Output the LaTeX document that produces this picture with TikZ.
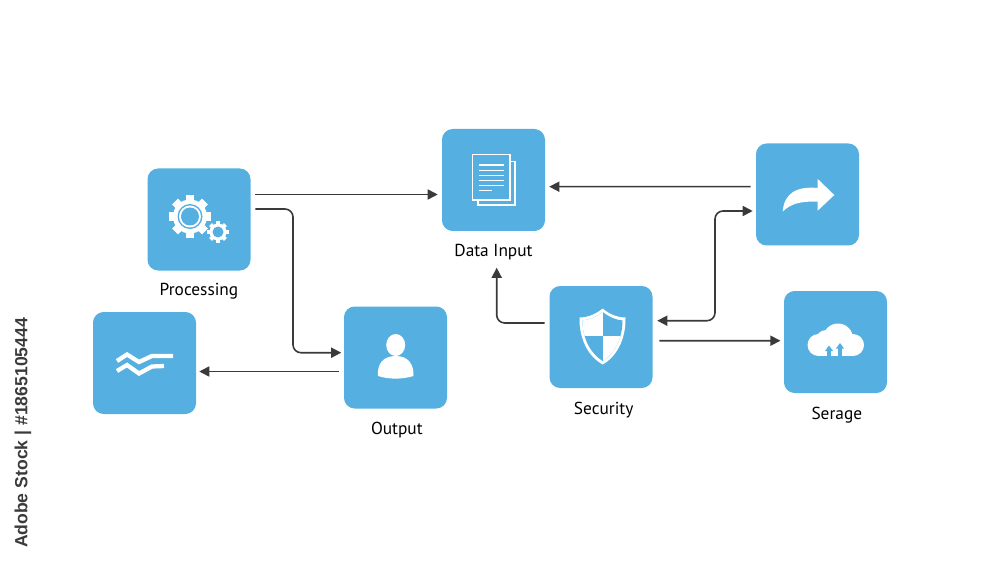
\documentclass[tikz,border=0pt]{standalone}
\usepackage{fontspec}
\setmainfont{PT Sans}
\newfontfamily\sidefont{Liberation Sans}
\usepackage{xcolor}
\usepackage{tikz}
\usetikzlibrary{arrows.meta,positioning,calc}
\definecolor{boxblue}{HTML}{55AFE0}
\definecolor{linegray}{HTML}{3A3A3A}
\newcommand{\gearicon}[4]{% centre x, centre y, radius, teeth
  \fill[white] (#1,#2) circle (#3);
  \pgfmathsetmacro{\gearstep}{360/#4}
  \pgfmathsetmacro{\gearnext}{2*\gearstep}
  \foreach \a in {0,\gearstep,...,359}
    \fill[white,rotate around={\a:(#1,#2)}] (#1-0.24*#3,#2) rectangle (#1+0.24*#3,#2-1.24*#3);
}
\begin{document}
\begin{tikzpicture}[
  x=0.75pt,y=-0.75pt,
  font=\fontsize{13}{15}\selectfont,
  node distance=5pt,
  box/.style={rectangle,fill=boxblue,rounded corners=8pt,minimum width=77.25pt,minimum height=76.5pt,inner sep=0pt},
  lab/.style={text=black,inner sep=0pt},
  ar/.style={-{Stealth[length=7.5pt,width=7.5pt,inset=0pt]},draw=linegray,line width=1.2pt},
  dbl/.style={{Stealth[length=7.5pt,width=7.5pt,inset=0pt]}-{Stealth[length=7.5pt,width=7.5pt,inset=0pt]},draw=linegray,line width=1.2pt},
  wline/.style={draw=white,line width=#1,line join=miter}
]
\useasboundingbox (0,0) rectangle (1000,563);

\node[box] (proc) at (199,219.5) {};
\node[box] (input) at (493.5,180) {};
\node[box] (share) at (807.5,194.5) {};
\node[box] (secur) at (601,337) {};
\node[box] (store) at (835.5,342) {};
\node[box] (output) at (395.5,357.5) {};
\node[box] (wave) at (144.5,363) {};

\node[lab,below=9.5pt of proc] (proclab) {Processing};
\node[lab,below=9.5pt of input] (inputlab) {Data Input};
\node[lab,below=10pt of output,xshift=1pt] (outputlab) {Output};
\node[lab,below=10pt of secur,xshift=2pt] (securlab) {Security};
\node[lab,below=10.5pt of store,xshift=1pt] (storelab) {Serage};
\node[rotate=90,text=linegray,inner sep=0pt,font=\sidefont\bfseries\fontsize{13.2}{15}\selectfont] (stock) at (23,433) {Adobe Stock | \#1865105444};

\coordinate (bendA) at (293,280);
\coordinate (bendB) at (715,265);
\draw[ar] ([shift={(4.5,-25)}]proc.east) -- ([shift={(-4,14.5)}]input.west);
\draw[ar,rounded corners=6pt] ([shift={(4.5,-10.5)}]proc.east) -| (bendA) |- ([shift={(-2.5,-4.8)}]output.west);
\draw[ar] ([shift={(-5,14)}]output.west) -- ([shift={(3,8.5)}]wave.east);
\draw[ar] ([shift={(-5,-7.8)}]share.west) -- ([shift={(4,6.7)}]input.east);
\draw[ar,rounded corners=6pt] ([shift={(-4.5,-14)}]secur.west) -| ([shift={(3.2,36.5)}]input.south);
\draw[dbl,rounded corners=6pt] ([shift={(-3,16.5)}]share.west) -| (bendB) |- ([shift={(4.5,-16.3)}]secur.east);
\draw[ar] ([shift={(6.5,3.7)}]secur.east) -- ([shift={(-3.3,-1.3)}]store.west);

% gears
\gearicon{190}{216.5}{17}{8}
\fill[boxblue] (190,216.5) circle (12.5);
\fill[white] (190,216.5) circle (11);
\fill[boxblue] (190,216.5) circle (9);
\fill[boxblue] (218,232) circle (10.5);
\gearicon{218}{232}{8.5}{8}
\fill[boxblue] (218,232) circle (5.5);

% waves
\draw[wline=3.2pt] (117,361) -- (127,354.5) -- (139,362) -- (152,356) -- (173,356);
\draw[wline=3.2pt] (117,371) -- (127,365) -- (139,373.5) -- (152,366.5) -- (164,366);

% person
\fill[white] (395.7,345) ellipse (9.5 and 11);
\fill[white] (378,376) .. controls (377,364) and (383,356) .. (395.7,356) .. controls (408,356) and (414,364) .. (413.5,376) .. controls (402,379.5) and (389,379.5) .. (378,376) -- cycle;

% document
\draw[white,line width=1.1pt] (478,200) -- (478,205) -- (515,205) -- (515,161.5) -- (510,161.5);
\draw[white,line width=1.1pt] (472.3,154.3) rectangle (510,200);
\foreach \ypos in {165,170.5,175.7,180.7,185.7}
  \draw[white,line width=1.1pt] (479,\ypos) -- (504,\ypos);
\draw[white,line width=1.1pt] (479,190.7) -- (491.7,190.7);

% shield
\fill[white] (602.7,308.5) .. controls (609,314) and (617,317.5) .. (625.5,317.5) .. controls (626,340) and (616,357) .. (602.7,364.5) .. controls (589,357) and (579,340) .. (579.5,317.5) .. controls (588,317.5) and (596,314) .. (602.7,308.5) -- cycle;
\begin{scope}
  \clip (602.7,312) .. controls (609,317) and (616,320) .. (622.5,320.5) .. controls (622.5,339) and (614,354) .. (602.7,361) .. controls (591,354) and (582.5,339) .. (582.5,320.5) .. controls (589,320) and (596,317) .. (602.7,312) -- cycle;
  \fill[boxblue] (575,305) rectangle (630,370);
  \fill[white] (575,305) rectangle (602.7,335.7);
  \fill[white] (602.7,335.7) rectangle (630,370);
\end{scope}

% share arrow
\fill[white] (834.3,195) -- (817.7,179) -- (817.7,188) .. controls (797,186) and (784,193) .. (782.7,211.7) .. controls (790,204) and (800,201) .. (817.7,201.7) -- (817.7,210.7) -- cycle;

% cloud
\foreach \xpos/\ypos/\rad in {838/338.5/15,818.5/345/11,853/345/11,826/340/10}
  \fill[white] (\xpos,\ypos) circle (\rad);
\fill[white] (818.5,345) rectangle (853,356);
\foreach \xpos/\ytip in {829/345.5,840/343}
  \fill[boxblue] (\xpos,\ytip) -- (\xpos+4,\ytip+5.5) -- (\xpos+1.8,\ytip+5.5) -- (\xpos+1.8,356) -- (\xpos-1.8,356) -- (\xpos-1.8,\ytip+5.5) -- (\xpos-4,\ytip+5.5) -- cycle;
\end{tikzpicture}
\end{document}
